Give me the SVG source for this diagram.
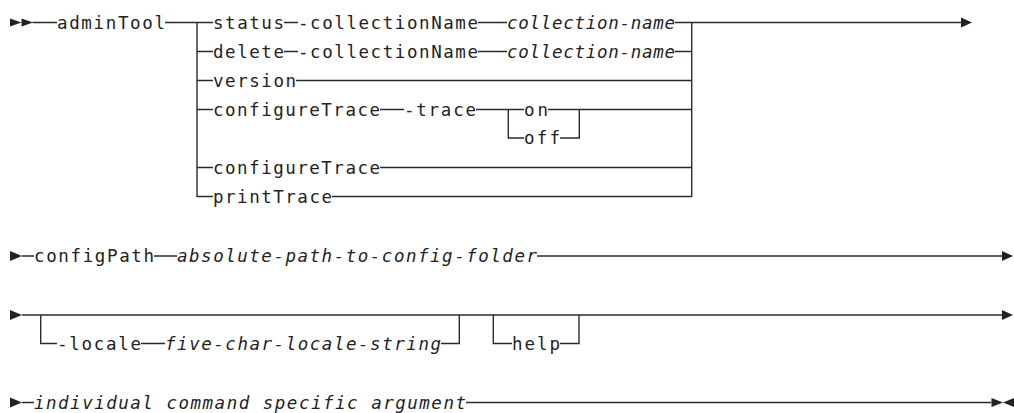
<svg xmlns="http://www.w3.org/2000/svg" width="1014" height="413" viewBox="0 0 1014 413">
<style>
.t{font-family:"DejaVu Sans Mono","Liberation Mono",monospace;font-size:17.5px;fill:#222}
.i{font-style:italic}
.ln{fill:none;stroke:#2b2b2b;stroke-width:1.4}
.ah{fill:#222}
</style>
<rect width="1014" height="413" fill="#fff"/>
<g id="connectors">
<path class="ln" d="M32.5 22.5H57M165 22.5H213M284 22.5H298M478 22.5H507M675 22.5H961"/>
<path class="ln" d="M197 22.5V196.5H213M197 51.5H213M197 80.5H213M197 109.5H213M197 167.5H213"/>
<path class="ln" d="M284 51.5H298M478 51.5H507M675 51.5H691.7"/>
<path class="ln" d="M296 80.5H691.7"/>
<path class="ln" d="M380 109.5H404M476 109.5H524M548 109.5H691.7"/>
<path class="ln" d="M508.3 109.5V138H524M560 138H579.3V109.5"/>
<path class="ln" d="M380 167.5H691.7M332 196.5H691.7V22.5"/>
<path class="ln" d="M22 256H34M154 256H177M537 256H1002"/>
<path class="ln" d="M22 315H1002"/>
<path class="ln" d="M40.7 315V343.5H57M141 343.5H165M441 343.5H459.3V315"/>
<path class="ln" d="M493.3 315V343.5H512M560 343.5H579V315"/>
<path class="ln" d="M22 402.5H34M466 402.5H991.5"/>
<polygon class="ah" points="10,18.5 21.5,22.5 10,26.5"/>
<polygon class="ah" points="21.5,18.5 33,22.5 21.5,26.5"/>
<polygon class="ah" points="961,17.5 972,22.5 961,27.5"/>
<polygon class="ah" points="10,251 22,256 10,261"/>
<polygon class="ah" points="1002,251 1013,256 1002,261"/>
<polygon class="ah" points="10,310 22,315 10,320"/>
<polygon class="ah" points="1002,310 1013,315 1002,320"/>
<polygon class="ah" points="10,397.5 22,402.5 10,407.5"/>
<polygon class="ah" points="991.5,398 1003,402.5 991.5,407"/>
<polygon class="ah" points="1014,398 1003,402.5 1014,407"/>
</g>
<g id="n-adminTool"><text class="t" x="57" y="28.5" textLength="108" lengthAdjust="spacing">adminTool</text></g>
<g id="n-status"><text class="t" x="213" y="28.5" textLength="71" lengthAdjust="spacing">status</text></g>
<g id="n-collectionName1"><text class="t" x="298" y="28.5" textLength="180" lengthAdjust="spacing">-collectionName</text></g>
<g id="n-collection-name1"><text class="t i" x="507" y="28.5" textLength="168" lengthAdjust="spacing">collection-name</text></g>
<g id="n-delete"><text class="t" x="213" y="57.5" textLength="71" lengthAdjust="spacing">delete</text></g>
<g id="n-collectionName2"><text class="t" x="298" y="57.5" textLength="180" lengthAdjust="spacing">-collectionName</text></g>
<g id="n-collection-name2"><text class="t i" x="507" y="57.5" textLength="168" lengthAdjust="spacing">collection-name</text></g>
<g id="n-version"><text class="t" x="213" y="86.5" textLength="83" lengthAdjust="spacing">version</text></g>
<g id="n-configureTrace1"><text class="t" x="213" y="115.5" textLength="167" lengthAdjust="spacing">configureTrace</text></g>
<g id="n-trace"><text class="t" x="404" y="115.5" textLength="72" lengthAdjust="spacing">-trace</text></g>
<g id="n-on"><text class="t" x="524" y="115.5" textLength="24" lengthAdjust="spacing">on</text></g>
<g id="n-off"><text class="t" x="524" y="144" textLength="36" lengthAdjust="spacing">off</text></g>
<g id="n-configureTrace2"><text class="t" x="213" y="173.5" textLength="167" lengthAdjust="spacing">configureTrace</text></g>
<g id="n-printTrace"><text class="t" x="213" y="202.5" textLength="119" lengthAdjust="spacing">printTrace</text></g>
<g id="n-configPath"><text class="t" x="34" y="262" textLength="120" lengthAdjust="spacing">configPath</text></g>
<g id="n-absolute"><text class="t i" x="177" y="262" textLength="360" lengthAdjust="spacing">absolute-path-to-config-folder</text></g>
<g id="n-locale"><text class="t" x="57" y="349.5" textLength="84" lengthAdjust="spacing">-locale</text></g>
<g id="n-five"><text class="t i" x="165" y="349.5" textLength="276" lengthAdjust="spacing">five-char-locale-string</text></g>
<g id="n-help"><text class="t" x="512" y="349.5" textLength="48" lengthAdjust="spacing">help</text></g>
<g id="n-individual"><text class="t i" x="34" y="408.5" textLength="432" lengthAdjust="spacing">individual command specific argument</text></g>
</svg>
